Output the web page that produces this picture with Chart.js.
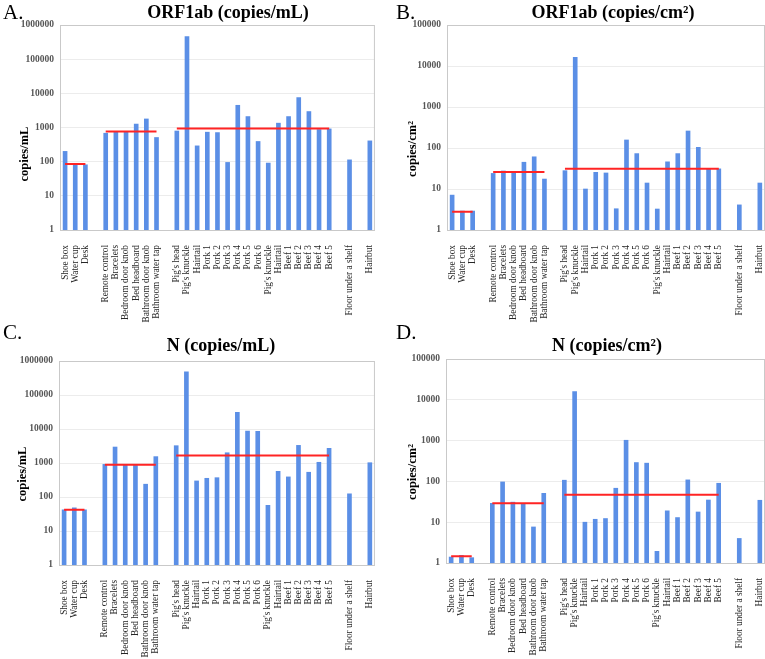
<!DOCTYPE html>
<html lang="en">
<head>
    <meta charset="UTF-8">
    <title>ORF1ab / N copies</title>
    <style>
        body { margin: 0; background: #fff; }
        #wrap { position: relative; width: 765px; height: 659px; overflow: hidden; font-family: 'Liberation Serif', serif; }
        canvas { position: absolute; }
        .letter { position: absolute; font-size: 21px; line-height: 21px; color: #000; }
        .title { position: absolute; font-size: 18px; font-weight: bold; line-height: 22px; color: #000; transform: translateX(-50%); white-space: nowrap; }
        .ytitle { position: absolute; width: 0; height: 0; }
        .ytitle span { position: absolute; font-size: 12.5px; font-weight: bold; line-height: 14px; white-space: nowrap; transform: translate(-50%, -50%) rotate(-90deg); }
    </style>
    <script src="https://cdn.jsdelivr.net/npm/chart.js"></script>
</head>
<body>
<div id="wrap">
    <canvas id="chartA" width="388" height="325" style="left:0; top:0;"></canvas>
    <canvas id="chartB" width="398" height="325" style="left:380px; top:0;"></canvas>
    <canvas id="chartC" width="388" height="329" style="left:0; top:330px;"></canvas>
    <canvas id="chartD" width="398" height="329" style="left:380px; top:330px;"></canvas>

    <div class="letter" style="left:3px; top:2px;">A.</div>
    <div class="letter" style="left:396px; top:2px;">B.</div>
    <div class="letter" style="left:3px; top:322px;">C.</div>
    <div class="letter" style="left:396px; top:322px;">D.</div>
    <div class="title" style="left:228px; top:1px;">ORF1ab (copies/mL)</div>
    <div class="title" style="left:613px; top:1px;">ORF1ab (copies/cm²)</div>
    <div class="title" style="left:221px; top:334px;">N (copies/mL)</div>
    <div class="title" style="left:607px; top:334px;">N (copies/cm²)</div>
    <div class="ytitle" style="left:24px; top:154px;"><span>copies/mL</span></div>
    <div class="ytitle" style="left:412px; top:149px;"><span>copies/cm²</span></div>
    <div class="ytitle" style="left:22px; top:474px;"><span>copies/mL</span></div>
    <div class="ytitle" style="left:412px; top:472px;"><span>copies/cm²</span></div>
</div>

<script>
    // sample names, '' = empty slot between groups
    const categories = ['Shoe box', 'Water cup', 'Desk', '',
        'Remote control', 'Bracelets', 'Bedroom door knob', 'Bed headboard', 'Bathroom door knob', 'Bathroom water tap', '',
        "Pig's head", "Pig's knuckle", 'Hairtail', 'Pork 1', 'Pork 2', 'Pork 3', 'Pork 4', 'Pork 5', 'Pork 6',
        "Pig's knuckle", 'Hairtail', 'Beef 1', 'Beef 2', 'Beef 3', 'Beef 4', 'Beef 5', '',
        'Floor under a shelf', '', 'Hairbut'];

    // first / last index of each group that has a mean line
    const groupRanges = [[0, 2], [4, 9], [11, 26]];

    const orf1abPerML = [200, 81, 81, null, 680, 760, 760, 1260, 1780, 510, null,
        790, 455000, 290, 730, 710, 95, 4470, 2090, 390, 91, 1340, 2090, 7500, 2930, 870, 910, null, 113, null, 406];
    const orf1abPerMLMeans = [85, 760, 930];

    const orf1abPerCm2 = [7.1, 2.9, 2.9, null, 24, 27.5, 26, 45, 61, 17.5, null,
        28, 16300, 10, 25.5, 24.6, 3.3, 157, 73, 14, 3.25, 46, 73, 260, 104, 31, 31, null, 4.1, null, 14];
    const orf1abPerCm2Means = [2.8, 26, 31];

    const nPerML = [42, 48, 42, null, 910, 2950, 870, 850, 238, 1540, null,
        3230, 478000, 297, 355, 370, 2000, 30700, 8700, 8500, 57, 570, 390, 3300, 535, 1050, 2700, null, 124, null, 1020];
    const nPerMLMeans = [42, 890, 1650];

    const nPerCm2 = [1.40, 1.54, 1.35, null, 29, 97, 31, 28.6, 7.65, 51, null,
        107, 16000, 10, 11.8, 12.3, 68, 1020, 290, 280, 1.93, 19, 13, 109, 17.8, 35, 90, null, 4.0, null, 34.5];
    const nPerCm2Means = [1.46, 29, 47];

    const barColor = '#5b8fe6';
    const meanColor = '#ff2424';
    const serif = 'Liberation Serif';

    // frame round the plot area (under the bars)
    const framePlugin = {
        id: 'frame',
        beforeDatasetsDraw(chart) {
            const a = chart.chartArea;
            const c = chart.ctx;
            c.save();
            c.strokeStyle = '#c9c9c9';
            c.lineWidth = 1;
            c.strokeRect(a.left + 0.5, a.top + 0.5, a.right - a.left - 1, a.bottom - a.top);
            c.restore();
        }
    };

    function meanLine(means) {
        const row = categories.map(() => null);
        groupRanges.forEach((r, g) => {
            for (let k = r[0]; k <= r[1]; k++) row[k] = means[g];
        });
        return row;
    }

    function makePanel(id, values, means, yMax, yWidth, xHeight, padTop) {
        const ctx = document.getElementById(id).getContext('2d');
        return new Chart(ctx, {
            type: 'bar',
            data: {
                labels: categories,
                datasets: [
                    {
                        type: 'line',
                        data: meanLine(means),
                        borderColor: meanColor,
                        borderWidth: 2,
                        pointRadius: 0,
                        spanGaps: false,
                        order: 0
                    },
                    {
                        type: 'bar',
                        data: values,
                        backgroundColor: barColor,
                        barThickness: 4,
                        order: 1
                    }
                ]
            },
            options: {
                responsive: false,
                animation: false,
                layout: { padding: { top: padTop, right: 0, left: 0, bottom: 0 } },
                plugins: {
                    legend: { display: false },
                    tooltip: { enabled: false }
                },
                scales: {
                    x: {
                        type: 'category',
                        offset: true,
                        grid: { display: false },
                        border: { color: '#c9c9c9' },
                        ticks: {
                            autoSkip: false,
                            maxRotation: 90,
                            minRotation: 90,
                            padding: 7,
                            color: '#262626',
                            font: { family: serif, size: 9.3 }
                        },
                        afterFit(scale) { scale.height = xHeight; }
                    },
                    y: {
                        type: 'logarithmic',
                        min: 1,
                        max: yMax,
                        grid: { color: '#ececec', drawTicks: false },
                        border: { color: '#c9c9c9' },
                        ticks: {
                            padding: 6,
                            color: '#555',
                            font: { family: serif, size: 9.5, weight: 'bold' },
                            callback: (v) => String(v)
                        },
                        afterBuildTicks(scale) {
                            const t = [];
                            for (let v = 1; v <= yMax; v *= 10) t.push({ value: v });
                            scale.ticks = t;
                        },
                        afterFit(scale) { scale.width = yWidth; }
                    }
                }
            },
            plugins: [framePlugin]
        });
    }

    makePanel('chartA', orf1abPerML, orf1abPerMLMeans, 1000000, 60, 95, 25);
    makePanel('chartB', orf1abPerCm2, orf1abPerCm2Means, 100000, 67, 95, 25);
    makePanel('chartC', nPerML, nPerMLMeans, 1000000, 59, 94, 31);
    makePanel('chartD', nPerCm2, nPerCm2Means, 100000, 66, 96, 29);
</script>
</body>
</html>
